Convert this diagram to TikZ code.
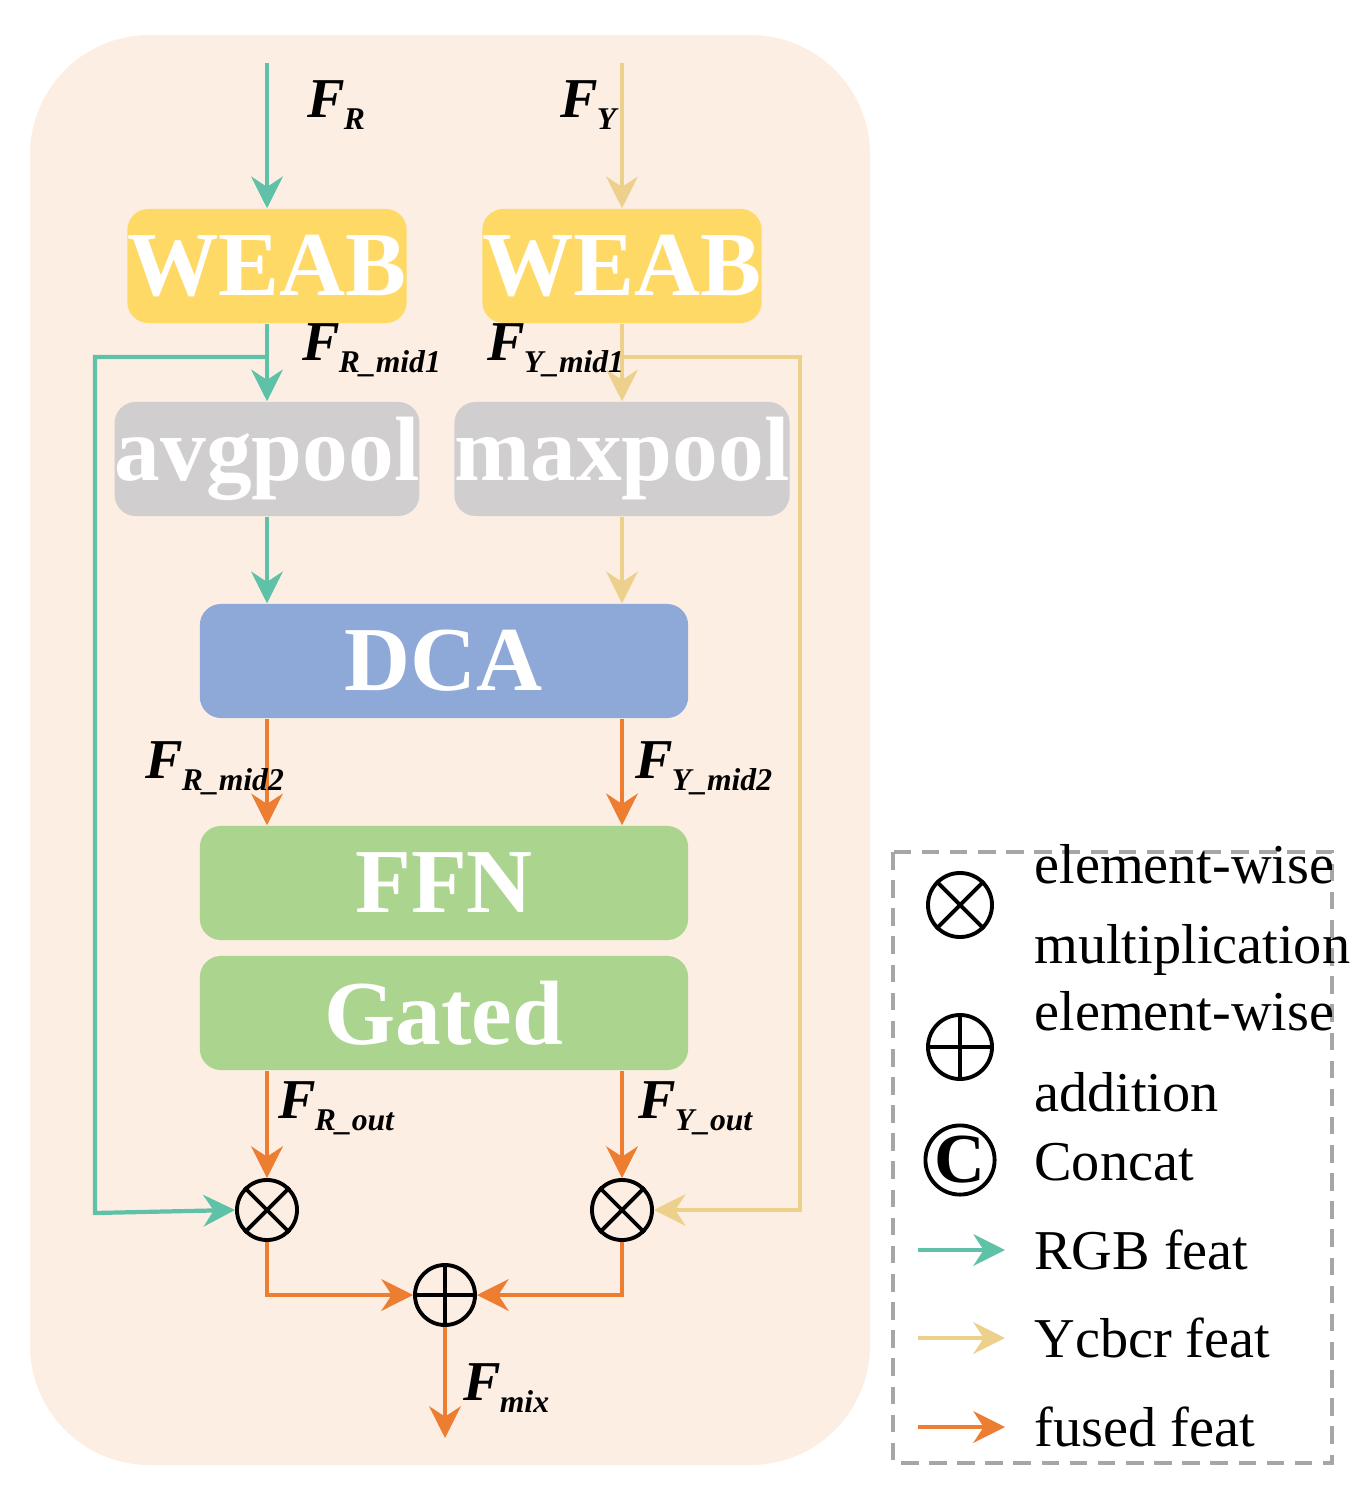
\documentclass[tikz,border=0pt]{standalone}
\usepackage{fontspec}
\setmainfont{Liberation Serif}
\usetikzlibrary{arrows.meta}
\definecolor{bgpeach}{HTML}{FCEEE3}
\definecolor{weabyel}{HTML}{FFD966}
\definecolor{poolgray}{HTML}{D0CECE}
\definecolor{dcablue}{HTML}{8EA9D8}
\definecolor{ffngreen}{HTML}{ABD58E}
\definecolor{rgbteal}{HTML}{5FC2A8}
\definecolor{ytan}{HTML}{EDD08C}
\definecolor{fuseorange}{HTML}{ED7D31}
\newcommand{\fl}[1]{\textbf{\textit{F\kern-0.02em\raisebox{-0.45ex}{\small #1}}}}

\begin{document}
\begin{tikzpicture}[x=0.01cm,y=-0.01cm,
    blk/.style={rounded corners=6pt, minimum width=2.67cm, minimum height=1.14cm, inner sep=0pt,
        text=white, font=\fontsize{26}{26}\selectfont\bfseries},
    wideblk/.style={blk, minimum width=4.88cm},
    op/.style={circle, draw=black, line width=1.1pt, minimum size=0.6cm, inner sep=0pt},
    rgb/.style={rgbteal, line width=1.2pt, -{Stealth[length=9pt,width=9pt]}},
    ycb/.style={ytan, line width=1.2pt, -{Stealth[length=9pt,width=9pt]}},
    fus/.style={fuseorange, line width=1.2pt, -{Stealth[length=9pt,width=9pt]}},
    lab/.style={font=\fontsize{16}{16}\selectfont, anchor=west}]
    \useasboundingbox (0,0) rectangle (1363,1504);
    % Fondo
    \fill[bgpeach, rounded corners=34pt] (30,35) rectangle (870,1465);

    % Bloques
    \node[blk, fill=weabyel] (weabR) at (267,266) {WEAB};
    \node[blk, fill=weabyel] (weabY) at (622,266) {WEAB};
    \node[blk, fill=poolgray] (avg) at (267,459) {avgpool};
    \node[blk, fill=poolgray] (max) at (622,459) {maxpool};
    \node[wideblk, fill=dcablue] (dca) at (444,661) {DCA};
    \node[wideblk, fill=ffngreen] (ffn) at (444,883) {FFN};
    \node[wideblk, fill=ffngreen] (gated) at (444,1013) {Gated};

    % Operadores
    \node[op] (mulR) at (267,1210) {};
    \node[op] (mulY) at (622,1210) {};
    \node[op] (add) at (445,1295) {};
    \foreach \n in {mulR,mulY} \draw[line width=1.1pt] (\n.45) -- (\n.225) (\n.135) -- (\n.315);
    \draw[line width=1.1pt] (add.north) -- (add.south) (add.west) -- (add.east);

    % Puntos libres
    \coordinate (inR) at (267,63);
    \coordinate (inY) at (622,63);
    \coordinate (out) at (445,1438);

    % Flechas RGB
    \draw[rgb] (inR) -- (weabR);
    \draw[rgb] (weabR) -- (avg);
    \draw[rgb] (avg) -- (dca.north -| avg);
    \draw[rgb] (267,357) -- (95,357) -- (95,1213) -- (mulR.west);
    % Flechas Ycbcr
    \draw[ycb] (inY) -- (weabY);
    \draw[ycb] (weabY) -- (max);
    \draw[ycb] (max) -- (dca.north -| max);
    \draw[ycb] (622,357) -- (800,357) -- (800,1210) -- (mulY.east);
    % Flechas fusionadas
    \draw[fus] (dca.south -| avg) -- (ffn.north -| avg);
    \draw[fus] (dca.south -| max) -- (ffn.north -| max);
    \draw[fus] (gated.south -| mulR) -- (mulR);
    \draw[fus] (gated.south -| mulY) -- (mulY);
    \draw[fus] (mulR.south) |- (add.west);
    \draw[fus] (mulY.south) |- (add.east);
    \draw[fus] (add) -- (out);

    % Etiquetas
    \node[lab] (lFR) at (295,105) {\fl{R}};
    \node[lab] (lFY) at (548,105) {\fl{Y}};
    \node[lab] (lRm1) at (290,350) {\fl{R\_mid1}};
    \node[lab] (lYm1) at (475,350) {\fl{Y\_mid1}};
    \node[lab] (lRm2) at (133,768) {\fl{R\_mid2}};
    \node[lab] (lYm2) at (623,768) {\fl{Y\_mid2}};
    \node[lab] (lRo) at (266,1108) {\fl{R\_out}};
    \node[lab] (lYo) at (626,1108) {\fl{Y\_out}};
    \node[lab] (lmix) at (451,1388) {\fl{mix}};

    % Leyenda
    \draw[gray!70, line width=1.3pt, dash pattern=on 5pt off 3pt] (893,852) rectangle (1332,1463);
    \node[op, minimum size=0.64cm] (lgMul) at (960,905) {};
    \draw[line width=1.1pt] (lgMul.45) -- (lgMul.225) (lgMul.135) -- (lgMul.315);
    \node[op, minimum size=0.64cm] (lgAdd) at (960,1047) {};
    \draw[line width=1.1pt] (lgAdd.north) -- (lgAdd.south) (lgAdd.west) -- (lgAdd.east);
    \node[op, minimum size=0.64cm, font=\fontsize{20}{20}\selectfont\bfseries] (lgCat) at (960,1160) {C};
    \node[lab, align=left, font=\fontsize{16}{23}\selectfont] (tMul) at (1022,910) {element-wise\\multiplication};
    \node[lab, align=left, font=\fontsize{16}{23}\selectfont] (tAdd) at (1022,1052) {element-wise\\addition};
    \node[lab] (tCat) at (1022,1162) {Concat};
    \coordinate (aR0) at (918,1250); \coordinate (aR1) at (1005,1250);
    \coordinate (aY0) at (918,1338); \coordinate (aY1) at (1005,1338);
    \coordinate (aF0) at (918,1427); \coordinate (aF1) at (1005,1427);
    \draw[rgb] (aR0) -- (aR1);
    \draw[ycb] (aY0) -- (aY1);
    \draw[fus] (aF0) -- (aF1);
    \node[lab] (tR) at (1022,1250) {RGB feat};
    \node[lab] (tY) at (1022,1338) {Ycbcr feat};
    \node[lab] (tF) at (1022,1427) {fused feat};
\end{tikzpicture}
\end{document}
